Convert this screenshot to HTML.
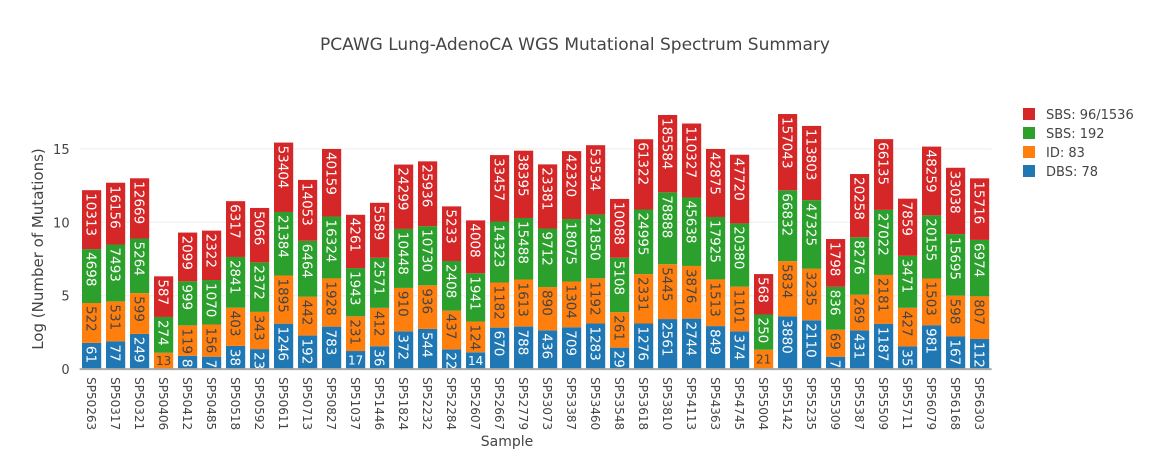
<!DOCTYPE html>
<html><head><meta charset="utf-8"><style>
body{margin:0;background:#fff;}
svg text{font-family:"DejaVu Sans","Liberation Sans",sans-serif;}
</style></head><body>
<svg id="chart" width="1152" height="450" xmlns="http://www.w3.org/2000/svg">
<rect width="1152" height="450" fill="#fff"/>
<text x="575" y="50" text-anchor="middle" font-size="17" fill="#444">PCAWG Lung-AdenoCA WGS Mutational Spectrum Summary</text>
<g id="grid"></g><g id="bars"></g><g id="axes"></g>
<text x="507" y="446" text-anchor="middle" font-size="14" fill="#444">Sample</text>
<text transform="translate(43,249) rotate(-90)" text-anchor="middle" font-size="15" fill="#444">Log (Number of Mutations)</text>
<g id="legend"></g>
</svg>
<script>
const samples=["SP50263","SP50317","SP50321","SP50406","SP50412","SP50485","SP50518","SP50592","SP50611","SP50713","SP50827","SP51037","SP51446","SP51824","SP52232","SP52284","SP52607","SP52667","SP52779","SP53073","SP53387","SP53460","SP53548","SP53618","SP53810","SP54113","SP54363","SP54745","SP55004","SP55142","SP55235","SP55309","SP55387","SP55509","SP55711","SP56079","SP56168","SP56303"];
const dbs78=[61,77,249,0,8,7,38,23,1246,192,783,17,36,372,544,22,14,670,788,436,709,1283,29,1276,2561,2744,849,374,0,3880,2110,7,431,1187,35,981,167,112];
const id83=[522,531,599,13,119,156,403,343,1895,442,1928,231,412,910,936,437,124,1182,1613,890,1304,1192,261,2331,5445,3876,1513,1101,21,5834,3235,69,269,2181,427,1503,598,807];
const sbs192=[4698,7493,5264,274,999,1070,2841,2372,21384,6464,16324,1943,2571,10448,10730,2408,1941,14323,15488,9712,18075,21850,5108,24995,78888,45638,17925,20380,250,66832,47325,836,8276,27022,3471,20155,15695,6974];
const sbs96=[10313,16156,12669,587,2099,2322,6317,5066,53404,14053,40159,4261,5589,24299,25936,5233,4008,33457,38395,23381,42320,53534,10088,61322,185584,110327,42875,47720,568,157043,113803,1798,20258,66135,7859,48259,33038,15716];
const yTicks=[0,5,10,15];
const seriesNames=["DBS: 78","ID: 83","SBS: 192","SBS: 96/1536"];
const NS="http://www.w3.org/2000/svg";
const X0=79.6,X1=991.6,Y0=369.1,PPU=14.68;
const bw=(X1-X0)/samples.length;
const xPos=i=>X0+bw*i;
const yPos=v=>Y0-v*PPU;
function mk(tag,attrs,parent){const e=document.createElementNS(NS,tag);for(const k in attrs)e.setAttribute(k,attrs[k]);parent.appendChild(e);return e;}
const grid=document.getElementById('grid'),bars=document.getElementById('bars'),axes=document.getElementById('axes'),legend=document.getElementById('legend');
yTicks.forEach(t=>{
  if(t>0){const l=mk('line',{x1:X0,x2:X1,y1:yPos(t),y2:yPos(t),stroke:'#eee','stroke-width':1},grid);
  
  }
  const tx=mk('text',{x:X0-10,y:yPos(t)+5,'text-anchor':'end','font-size':13,fill:'#444'},axes);
  tx.textContent=t;
  
  
});
const series=[dbs78,id83,sbs192,sbs96];
const colors=["#1f77b4","#ff7f0e","#2ca02c","#d62728"];
const txtCol=["#fff","#444","#fff","#fff"];
samples.forEach((s,i)=>{
  let base=0;
  const left=xPos(i)+bw*0.1,w=bw*0.8,cx=left+w/2;
  series.forEach((arr,k)=>{
    const v=arr[i];
    if(!v) return;
    const h=Math.log10(v);
    const top=yPos(base+h),bot=yPos(base),segH=bot-top;
    const r=mk('rect',{x:left,y:top,width:w,height:segH,fill:colors[k]},bars);
    
    
    const str=String(v),len=str.length*8.6;
    let t;
    if(segH>=len+2.4){
      t=mk('text',{transform:`translate(${cx-5},${top+3}) rotate(90)`,'font-size':13.5,fill:txtCol[k],'text-anchor':'start'},bars);
    }else{
      const fs=Math.min(12,segH-3,w/(str.length*0.64));
      t=mk('text',{x:cx,y:(top+bot)/2+fs*0.36,'font-size':fs,fill:txtCol[k],'text-anchor':'middle'},bars);
    }
    t.textContent=str;
    
    
    base+=h;
  });
  const lt=mk('text',{transform:`translate(${cx-4.5},${Y0+8}) rotate(90)`,'font-size':12,fill:'#444','text-anchor':'start'},axes);
  lt.textContent=s;
  
  
});
const zl=mk('line',{x1:X0,x2:X1,y1:Y0,y2:Y0,stroke:'#aaa','stroke-width':2},axes);


[3,2,1,0].forEach((k,j)=>{
  const y=114+j*19;
  const g=mk('g',{},legend);
  
  
  mk('rect',{x:1023,y:y-6,width:12,height:12,fill:colors[k]},g);
  const t=mk('text',{x:1046,y:y+5,'font-size':13,fill:'#444'},g);
  t.textContent=seriesNames[k];
});
</script>
</body></html>
